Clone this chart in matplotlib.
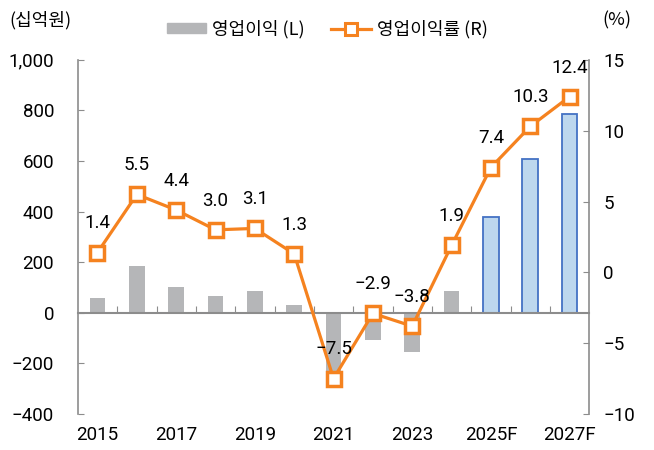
import matplotlib.pyplot as plt
import matplotlib.ticker as mticker
from matplotlib.patches import Patch
from matplotlib.lines import Line2D

plt.rcParams['font.family'] = ['Roboto', 'Noto Sans CJK KR', 'DejaVu Sans']
plt.rcParams['font.size'] = 13.5
kr_font = ['Noto Sans CJK KR', 'DejaVu Sans']

years = ['2015', '2016', '2017', '2018', '2019', '2020', '2021', '2022',
         '2023', '2024', '2025F', '2026F', '2027F']
op_profit = [60, 187, 103, 66, 87, 32, -230, -109, -153, 87, 378, 608, 786]
op_margin = [1.4, 5.5, 4.4, 3.0, 3.1, 1.3, -7.5, -2.9, -3.8, 1.9, 7.4, 10.3, 12.4]
forecast = [False] * 10 + [True] * 3

orange = '#f5821f'
gray = '#b5b6b8'
axis_gray = '#8c8c8c'

fig = plt.figure(figsize=(6.54, 4.5), dpi=100)
ax = fig.add_axes([0.119, 0.08, 0.782, 0.787])

x = list(range(len(years)))
for i, v in enumerate(op_profit):
    if forecast[i]:
        ax.bar(i, v, width=0.4, color='#bdd7ee', edgecolor='#4472c4', linewidth=1.3, zorder=2)
    else:
        ax.bar(i, v, width=0.4, color=gray, zorder=2)

ax.set_xlim(-0.5, len(years) - 0.5)
ax.set_ylim(-400, 1000)
ax.set_yticks(range(-400, 1001, 200))
ax.yaxis.set_major_formatter(mticker.FuncFormatter(lambda v, p: f'{v:,.0f}'.replace('-', '\u2212')))

for s in ['top', 'right']:
    ax.spines[s].set_visible(False)
ax.spines['left'].set_color(axis_gray)
ax.spines['left'].set_linewidth(1.2)
ax.spines['bottom'].set_position(('data', 0))
ax.spines['bottom'].set_color(axis_gray)
ax.spines['bottom'].set_linewidth(1.5)
ax.set_xticks([i + 0.5 for i in x[:-1]])
ax.set_xticklabels([])
ax.tick_params(axis='x', direction='in', length=5, color=axis_gray)
ax.tick_params(axis='y', direction='in', length=4, color=axis_gray, pad=17)

for i, lab in enumerate(years):
    if i % 2 == 0:
        ax.text(i, -0.035, lab, transform=ax.get_xaxis_transform(),
                ha='center', va='top')

ax2 = ax.twinx()
ax2.plot(x, op_margin, color=orange, linewidth=2.3, marker='s', markersize=10,
         markerfacecolor='white', markeredgecolor=orange, markeredgewidth=2.5, zorder=3)
ax2.set_ylim(-10, 15)
ax2.set_yticks(range(-10, 16, 5))
ax2.yaxis.set_major_formatter(mticker.FuncFormatter(lambda v, p: f'{v:.0f}'.replace('-', '\u2212')))
for s in ['top', 'left', 'bottom']:
    ax2.spines[s].set_visible(False)
ax2.spines['right'].set_color(axis_gray)
ax2.spines['right'].set_linewidth(1.2)
ax2.tick_params(axis='y', direction='in', length=4, color=axis_gray, pad=10)

for i, v in enumerate(op_margin):
    ax2.annotate(f'{v:.1f}'.replace('-', '\u2212'), (i, v), xytext=(0, 21),
                 textcoords='offset points', ha='center', va='center')

fig.text(0.015, 0.955, '(십억원)', ha='left', va='center', fontsize=13, family=kr_font)
fig.text(0.965, 0.955, '(%)', ha='right', va='center', fontsize=13, family=kr_font)

handles = [Patch(color=gray),
           Line2D([], [], color=orange, linewidth=2.3, marker='s', markersize=8,
                  markerfacecolor='white', markeredgecolor=orange, markeredgewidth=2.2)]
fig.legend(handles, ['영업이익 (L)', '영업이익률 (R)'], loc='center', bbox_to_anchor=(0.5, 0.935),
           ncol=2, frameon=False, prop={'family': kr_font, 'size': 13},
           handlelength=2.2, handleheight=0.5, columnspacing=1.5, handletextpad=0.3)

fig.savefig('out.png', dpi=100)
